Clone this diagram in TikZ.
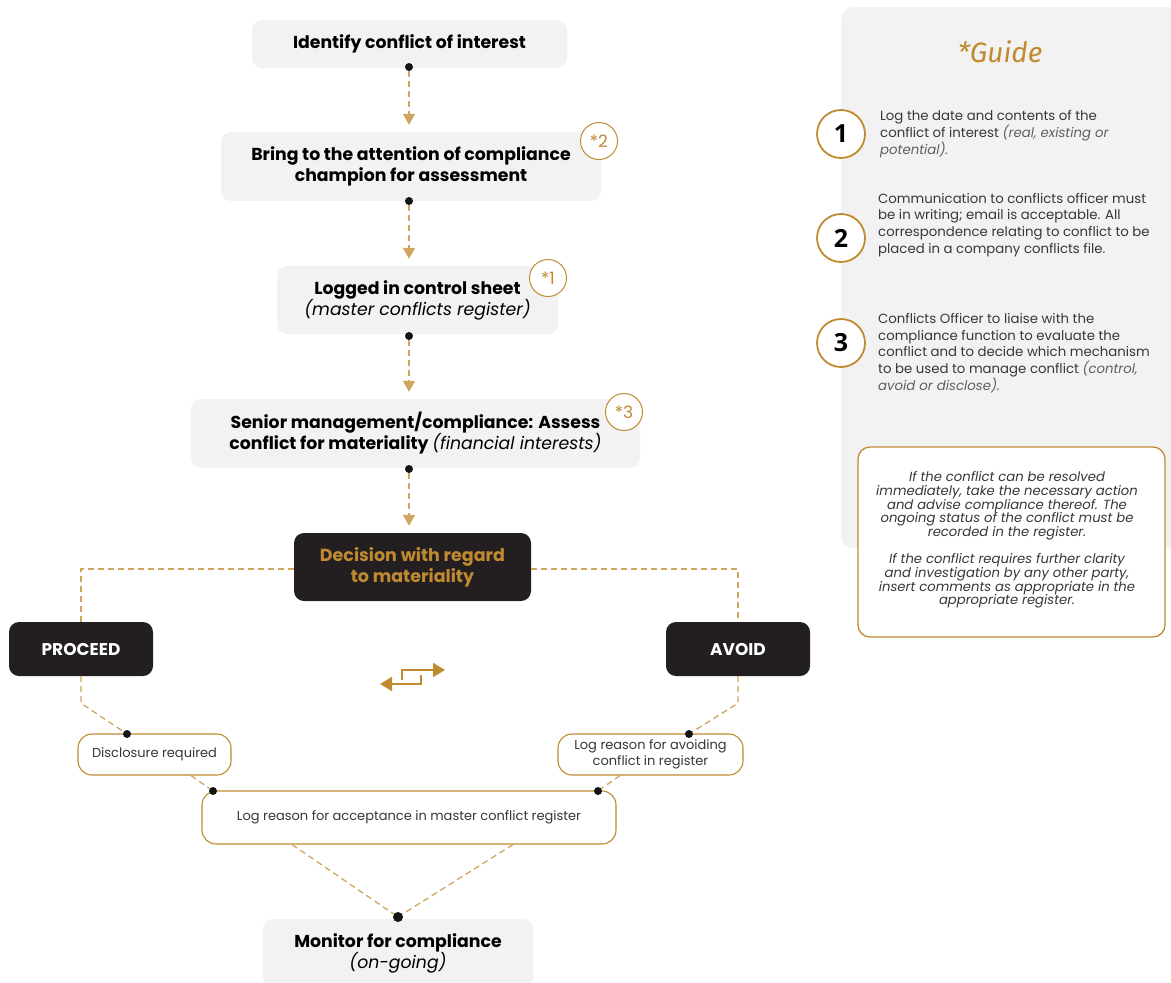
\documentclass[tikz,border=0pt]{standalone}
\usepackage{fontspec}
\setmainfont{Poppins}
\newfontfamily\numfont{Open Sans}
\newfontfamily\guidefont{Fira Sans}
\usetikzlibrary{arrows.meta,calc}
\definecolor{gold}{RGB}{192,138,48}
\definecolor{dashgold}{RGB}{208,165,95}
\definecolor{darkfill}{RGB}{35,31,32}
\definecolor{lightgrey}{RGB}{242,242,242}
\definecolor{txtgrey}{RGB}{55,55,55}
\definecolor{itgrey}{RGB}{95,95,95}
\begin{document}
\begin{tikzpicture}[x=1pt,y=-1pt,
  stepbox/.style={rectangle, rounded corners=10pt, fill=lightgrey, align=center, inner sep=0pt,
    font=\fontsize{17.3}{21}\selectfont\bfseries, text=black},
  darkbox/.style={rectangle, rounded corners=10pt, fill=darkfill, align=center, inner sep=0pt,
    font=\fontsize{17.5}{21}\selectfont\bfseries},
  outbox/.style={rectangle, rounded corners=14pt, draw=gold, line width=1.1pt, fill=white, align=center,
    inner sep=0pt, font=\fontsize{13}{16}\selectfont, text=txtgrey},
  badge/.style={circle, draw=gold, fill=white, line width=1pt, minimum size=37pt, inner sep=0pt,
    text=gold, font=\fontsize{17}{17}\selectfont},
  numcircle/.style={circle, draw=gold, fill=white, line width=1.8pt, minimum size=48pt, inner sep=0pt,
    font=\numfont\fontsize{25}{25}\selectfont\bfseries},
  dotnode/.style={circle, fill=black!92, inner sep=0pt, minimum size=8pt},
  bigdot/.style={circle, fill=black!92, inner sep=0pt, minimum size=10pt},
  dline/.style={dashgold, line width=1.3pt, dash pattern=on 6pt off 4pt},
  conn/.style={dline, -{Triangle[width=12pt,length=11pt]}},
  guidetext/.style={anchor=west, align=left, inner sep=0pt, text=txtgrey,
    font=\fontsize{13.3}{16.8}\selectfont}
]
\useasboundingbox (0,0) rectangle (1171,983);

% right panel
\fill[lightgrey, rounded corners=12pt] (841,7) rectangle (1195,548);
\node[text=gold, font=\guidefont\itshape\fontsize{28}{28}\selectfont] (guide) at (1000,52) {*Guide};

\node[numcircle] (n1) at (841,134) {1};
\node[numcircle] (n2) at (841,238) {2};
\node[numcircle] (n3) at (841,343) {3};

\node[guidetext] (g1) at (880,134) {Log the date and contents of the\\conflict of interest {\color{itgrey}\itshape (real, existing or}\\{\color{itgrey}\itshape potential).}};
\node[guidetext] (g2) at (878,225) {Communication to conflicts officer must\\be in writing; email is acceptable. All\\correspondence relating to conflict to be\\placed in a company conflicts file.};
\node[guidetext] (g3) at (878,353) {Conflicts Officer to liaise with the\\compliance function to evaluate the\\conflict and to decide which mechanism\\to be used to manage conflict {\color{itgrey}\itshape (control,}\\{\color{itgrey}\itshape avoid or disclose).}};

\node[rectangle, rounded corners=12pt, draw=gold, line width=1.3pt, fill=white, minimum width=307pt,
  minimum height=190pt, inner sep=0pt] (note) at (1011.5,542) {};
\node[align=center, inner sep=0pt, text=txtgrey, font=\fontsize{13.2}{13.7}\selectfont\itshape] (notetext) at (1007,540)
  {If the conflict can be resolved\\immediately, take the necessary action\\and advise compliance thereof. The\\ongoing status of the conflict must be\\recorded in the register.\\[13.7pt]If the conflict requires further clarity\\and investigation by any other party,\\insert comments as appropriate in the\\appropriate register.};

% main flow
\node[stepbox, minimum width=315pt, minimum height=48pt] (b1) at (409.5,44) {Identify conflict of interest};
\node[stepbox, minimum width=380pt, minimum height=69pt] (b2) at (411,166.5) {Bring to the attention of compliance\\champion for assessment};
\node[stepbox, minimum width=281pt, minimum height=68pt] (b3) at (417.5,300) {Logged in control sheet\\{\mdseries\itshape (master conflicts register)}};
\node[stepbox, minimum width=449pt, minimum height=69pt] (b4) at (415.5,433.5) {Senior management/compliance: Assess\\conflict for materiality {\mdseries\itshape (financial interests)}};
\node[darkbox, text=gold, minimum width=237pt, minimum height=68pt] (dec) at (412.5,567) {Decision with regard\\to materiality};

\node[badge] (s2) at (599,141) {*2};
\node[badge] (s1) at (548,278) {*1};
\node[badge] (s3) at (624,412) {*3};

\node[dotnode] (d1) at (409,67) {};
\node[dotnode] (d2) at (409,201) {};
\node[dotnode] (d3) at (409,336) {};
\node[dotnode] (d4) at (409,469) {};

\draw[conn] (d1) -- ($(d1 |- b2.north)+(0,-7)$);
\draw[conn] (d2) -- ($(d2 |- b3.north)+(0,-7)$);
\draw[conn] (d3) -- ($(d3 |- b4.north)+(0,-7)$);
\draw[conn] (d4) -- ($(d4 |- dec.north)+(0,-7)$);

\node[darkbox, text=white, font=\fontsize{17}{21}\selectfont\bfseries, minimum width=144pt, minimum height=54pt] (proceed) at (81,649) {PROCEED};
\node[darkbox, text=white, font=\fontsize{17}{21}\selectfont\bfseries, minimum width=144pt, minimum height=54pt] (avoid) at (738,649) {AVOID};

\draw[dline] (dec.west |- 0,569) -| (proceed.north);
\draw[dline] (dec.east |- 0,569) -| (avoid.north);

\node[outbox, minimum width=153pt, minimum height=41pt] (disc) at (154.5,754.5) {Disclosure required};
\node[outbox, minimum width=185pt, minimum height=41pt] (logav) at (650.5,754.5) {Log reason for avoiding\\conflict in register};
\node[outbox, minimum width=414pt, minimum height=53pt] (acc) at (409,817.5) {Log reason for acceptance in master conflict register};
\node[stepbox, minimum width=270pt, minimum height=68pt] (mon) at (398,953) {};
\node[align=center, inner sep=0pt, font=\fontsize{17.3}{21}\selectfont\bfseries] (montext) at (398,953) {Monitor for compliance\\{\mdseries\itshape (on-going)}};

\node[dotnode] (dp) at (127,734) {};
\node[dotnode] (da) at (689,734) {};
\node[dotnode] (dl) at (213,791) {};
\node[dotnode] (dr) at (598,791) {};
\node[bigdot] (dm) at (398,917) {};

\draw[dline] (proceed.south) -- ++(0,27) -- (dp);
\draw[dline] (avoid.south) -- ++(0,27) -- (da);
\draw[dline] ($(disc.south)+(36.5,0)$) -- (dl);
\draw[dline] ($(logav.south)+(-30.5,0)$) -- (dr);
\draw[dline] ($(acc.south)+(-117,0)$) -- (dm);
\draw[dline] ($(acc.south)+(104,0)$) -- (dm);

% swap icon
\draw[gold, line width=1.8pt, -{Triangle[width=14pt,length=12pt]}] (402,680) -- (402,670) -- (445,670);
\draw[gold, line width=1.8pt, -{Triangle[width=14pt,length=12pt]}] (421,675) -- (421,684) -- (380,684);
\end{tikzpicture}
\end{document}
